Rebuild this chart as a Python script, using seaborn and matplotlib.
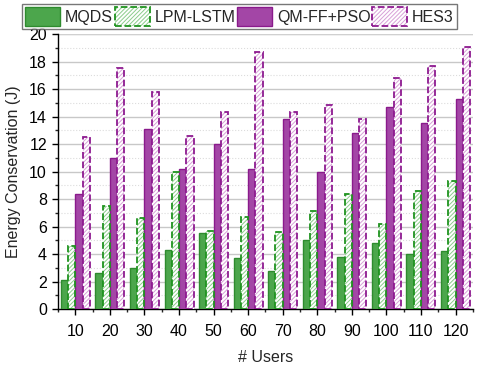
import numpy as np
import pandas as pd
import matplotlib
matplotlib.use('Agg')
import matplotlib.pyplot as plt
import seaborn as sns
from matplotlib.ticker import MultipleLocator
from matplotlib.patches import Patch, Rectangle

# data
users = [10, 20, 30, 40, 50, 60, 70, 80, 90, 100, 110, 120]
mqds = [2.1, 2.6, 3.0, 4.3, 5.5, 3.7, 2.8, 5.0, 3.8, 4.8, 4.0, 4.2]
lpm_lstm = [4.6, 7.5, 6.6, 10.0, 5.7, 6.7, 5.6, 7.15, 8.4, 6.2, 8.6, 9.3]
qm_ff_pso = [8.35, 11.0, 13.1, 10.2, 12.0, 10.2, 13.8, 10.0, 12.8, 14.7, 13.5, 15.3]
hes3 = [12.5, 17.5, 15.8, 12.6, 14.3, 18.7, 14.3, 14.85, 13.8, 16.8, 17.7, 19.1]

methods = ['MQDS', 'LPM-LSTM', 'QM-FF+PSO', 'HES3']
series = [mqds, lpm_lstm, qm_ff_pso, hes3]

df = pd.DataFrame({
    'Users': np.tile(users, 4),
    'Method': np.repeat(methods, len(users)),
    'Energy': np.concatenate(series),
})

sns.set_style('white')
plt.rcParams['font.family'] = ['Liberation Sans', 'DejaVu Sans']
plt.rcParams['hatch.linewidth'] = 0.7

green, green_edge = '#4ca64c', '#2e8b2e'
purple, purple_edge = '#a346a6', '#8a1a8c'
# hatch colour is the patch edge colour, so the dashed outline goes on top separately
styles = [
    dict(facecolor=green, edgecolor=green_edge, hatch=None, outline=None),
    dict(facecolor='white', edgecolor='#8ccc8c', hatch='////////', outline='#1f931f'),
    dict(facecolor=purple, edgecolor=purple_edge, hatch=None, outline=None),
    dict(facecolor='white', edgecolor='#d7a0d8', hatch='////////', outline='#8e1a90'),
]

fig = plt.figure(figsize=(4.8, 3.71), dpi=100)
ax = fig.add_axes([0.121, 0.167, 0.864, 0.741])

sns.barplot(data=df, x='Users', y='Energy', hue='Method', hue_order=methods,
            width=0.84, gap=0, ax=ax, legend=False, errorbar=None)

for cont, st in zip(ax.containers, styles):
    for bar in cont:
        bar.set_facecolor(st['facecolor'])
        bar.set_edgecolor(st['edgecolor'])
        bar.set_zorder(3)
        if st['hatch']:
            bar.set_hatch(st['hatch'])
            bar.set_linewidth(0)
            ax.add_patch(Rectangle(bar.get_xy(), bar.get_width(), bar.get_height(),
                                   fill=False, edgecolor=st['outline'], lw=1.3,
                                   ls='--', zorder=4))
        else:
            bar.set_linewidth(1.0)

ax.set_ylim(0, 20)
ax.set_xlim(-0.5, len(users) - 0.5)
ax.yaxis.set_major_locator(MultipleLocator(2))
ax.yaxis.set_minor_locator(MultipleLocator(1))
ax.set_xticks(np.arange(len(users) + 1) - 0.5, minor=True)
ax.grid(axis='y', which='major', color='#c8c8c8', lw=1.0, zorder=0)
ax.grid(axis='y', which='minor', color='#dcdcdc', lw=0.8, ls=':', zorder=0)
ax.set_axisbelow(True)

for s in ['top', 'right']:
    ax.spines[s].set_visible(False)
for s in ['left', 'bottom']:
    ax.spines[s].set_color('black')
    ax.spines[s].set_linewidth(1.0)
ax.axhline(20, color='#d0d0d0', lw=1.6, zorder=1)

ax.tick_params(axis='both', which='major', direction='out', length=4.5, width=1,
               labelsize=11.5, colors='black', left=True, bottom=True)
ax.tick_params(axis='both', which='minor', direction='out', length=2.5, width=1,
               left=True, bottom=True)
ax.tick_params(axis='x', which='major', pad=6)

ax.set_xlabel('# Users', fontsize=11.5, labelpad=8)
ax.set_ylabel('Energy Conservation (J)', fontsize=11.5, labelpad=6)

handles = []
for st in styles:
    if st['hatch']:
        handles.append((Patch(facecolor='white', edgecolor=st['edgecolor'],
                              hatch=st['hatch'], linewidth=0),
                        Patch(fill=False, edgecolor=st['outline'], ls='--', lw=1.3)))
    else:
        handles.append(Patch(facecolor=st['facecolor'], edgecolor=st['edgecolor'],
                             linewidth=1.0))
leg = fig.legend(handles, methods, loc='center', ncol=4,
                 bbox_to_anchor=(0.499, 0.9555), fontsize=11.5, frameon=True,
                 fancybox=False, edgecolor='#555555', handlelength=2.2,
                 handleheight=1.45, handletextpad=0.3, columnspacing=0.1,
                 borderpad=0.2, borderaxespad=0)
leg.get_frame().set_linewidth(1.0)

fig.savefig('out.png', dpi=100)
